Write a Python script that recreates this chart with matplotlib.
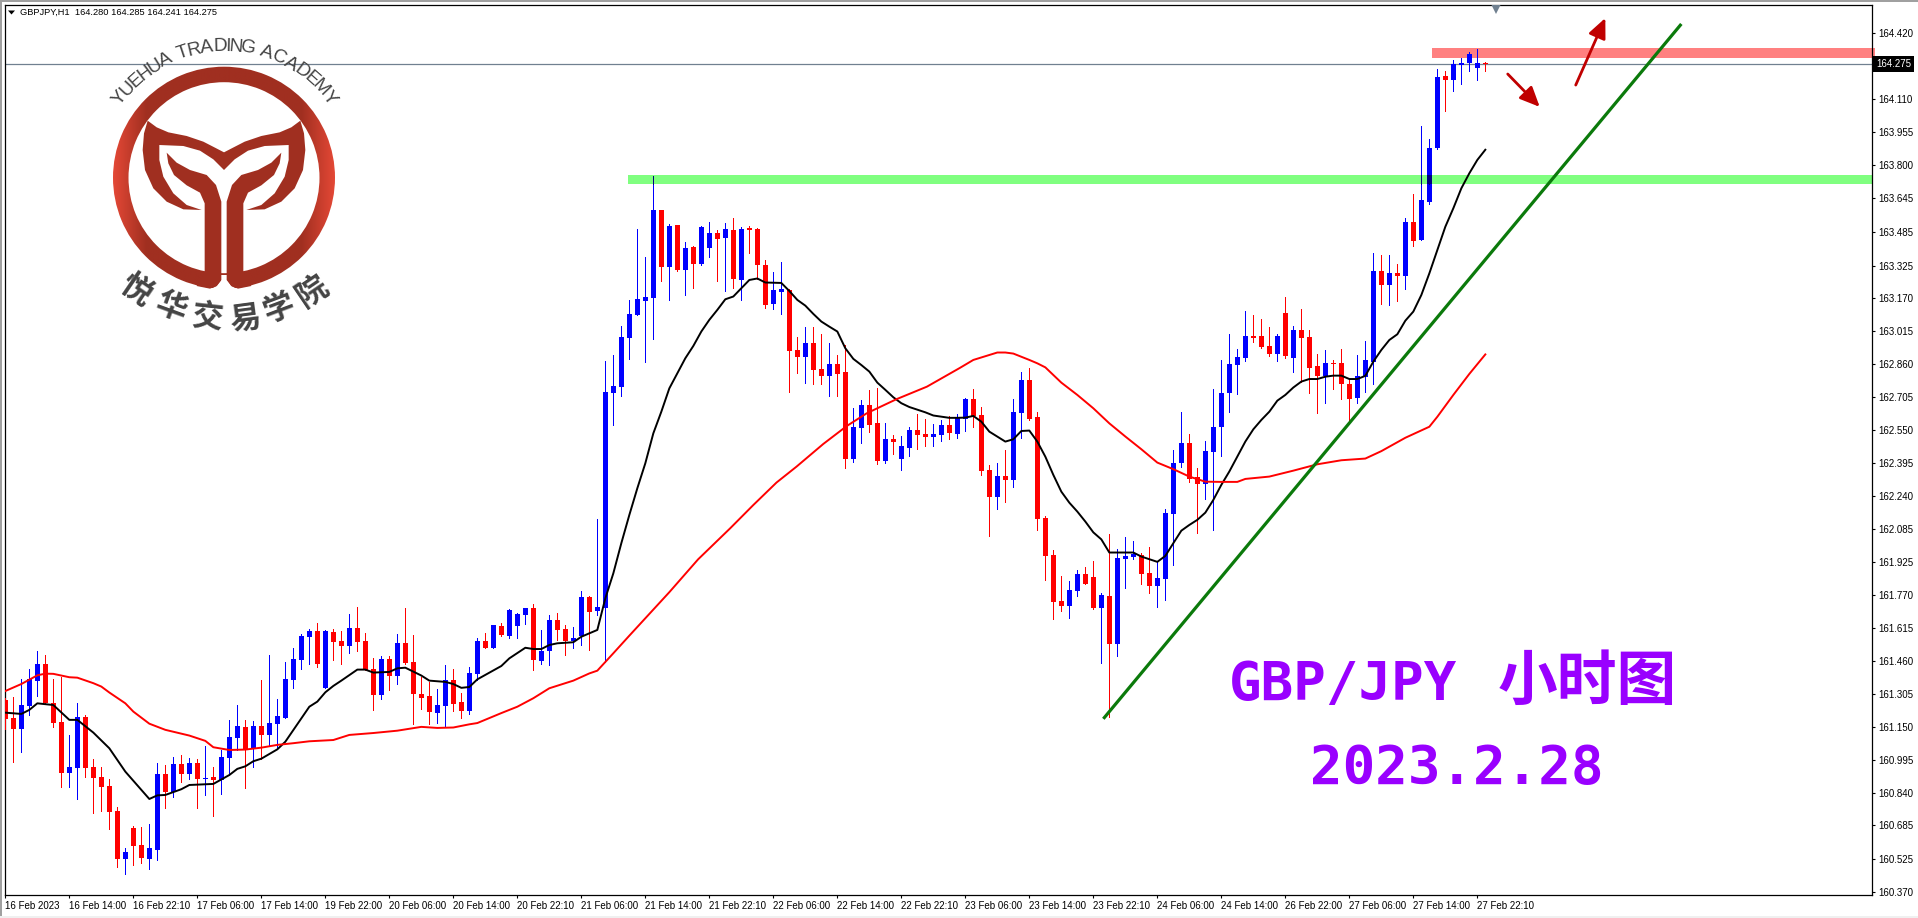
#coding=utf8
import numpy as np
import matplotlib
matplotlib.use("Agg")
import matplotlib.pyplot as plt
from matplotlib.patches import Polygon, Rectangle, Wedge
from matplotlib.textpath import TextPath
from matplotlib.font_manager import FontProperties

SMALL = 'Liberation Sans'
SMALL_SIZE = 7.0

# GBPJPY H1 candles
opens = [
    161.277, 161.191, 161.140, 161.249, 161.368, 161.447, 161.261, 161.173, 160.933, 160.956,
    161.197, 160.961, 160.914, 160.871, 160.754, 160.527, 160.673, 160.593, 160.527, 160.570,
    160.928, 160.842, 160.975, 160.928, 160.980, 160.904, 160.914, 160.900, 161.003, 161.098,
    161.150, 161.051, 161.154, 161.112, 161.164, 161.192, 161.371, 161.466, 161.574, 161.602,
    161.334, 161.598, 161.555, 161.532, 161.616, 161.555, 161.423, 161.301, 161.470, 161.390,
    161.546, 161.456, 161.305, 161.296, 161.216, 161.249, 161.371, 161.267, 161.225, 161.399,
    161.555, 161.522, 161.626, 161.578, 161.626, 161.677, 161.710, 161.461, 161.508, 161.654,
    161.611, 161.555, 161.578, 161.762, 161.696, 161.710, 162.724, 162.753, 162.984, 163.092,
    163.158, 163.172, 163.587, 163.319, 163.517, 163.304, 163.413, 163.333, 163.408, 163.479,
    163.455, 163.493, 163.257, 163.502, 163.498, 163.328, 163.144, 163.201, 163.210, 162.927,
    162.894, 162.960, 162.838, 162.805, 162.861, 162.823, 162.413, 162.559, 162.668, 162.583,
    162.404, 162.508, 162.413, 162.465, 162.550, 162.531, 162.517, 162.526, 162.574, 162.531,
    162.602, 162.696, 162.621, 162.361, 162.234, 162.333, 162.314, 162.630, 162.786, 162.611,
    162.135, 161.961, 161.744, 161.720, 161.791, 161.871, 161.857, 161.711, 161.767, 161.541,
    161.942, 161.951, 161.961, 161.876, 161.814, 161.847, 162.154, 162.394, 162.489, 162.328,
    162.295, 162.446, 162.564, 162.724, 162.856, 162.889, 162.993, 162.993, 162.946, 162.908,
    163.101, 162.889, 163.021, 162.988, 162.851, 162.804, 162.866, 162.866, 162.767, 162.701,
    162.800, 162.870, 163.299, 163.233, 163.290, 163.276, 163.530, 163.445, 163.625, 163.879,
    164.219, 164.200, 164.272, 164.280, 164.256, 164.280]
highs = [
    161.285, 161.293, 161.376, 161.423, 161.508, 161.489, 161.376, 161.387, 161.112, 161.261,
    161.206, 160.999, 160.961, 160.904, 160.771, 160.579, 160.683, 160.678, 160.692, 160.980,
    160.970, 161.008, 161.018, 161.003, 160.999, 161.060, 160.961, 161.041, 161.183, 161.253,
    161.183, 161.178, 161.371, 161.489, 161.282, 161.456, 161.522, 161.588, 161.612, 161.640,
    161.607, 161.612, 161.602, 161.682, 161.715, 161.593, 161.475, 161.484, 161.484, 161.588,
    161.711, 161.583, 161.385, 161.362, 161.329, 161.442, 161.423, 161.310, 161.433, 161.569,
    161.593, 161.630, 161.640, 161.706, 161.687, 161.710, 161.729, 161.607, 161.677, 161.687,
    161.630, 161.621, 161.791, 161.767, 162.130, 162.875, 162.903, 163.040, 163.163, 163.498,
    163.366, 163.748, 163.587, 163.521, 163.517, 163.436, 163.418, 163.512, 163.531, 163.493,
    163.526, 163.550, 163.507, 163.512, 163.502, 163.352, 163.295, 163.342, 163.215, 162.988,
    163.036, 163.036, 163.003, 162.960, 162.904, 162.951, 162.654, 162.691, 162.739, 162.748,
    162.583, 162.526, 162.522, 162.564, 162.625, 162.602, 162.578, 162.597, 162.616, 162.625,
    162.701, 162.743, 162.658, 162.385, 162.394, 162.456, 162.696, 162.823, 162.842, 162.635,
    162.144, 161.984, 161.862, 161.838, 161.890, 161.904, 161.932, 161.781, 162.060, 161.989,
    162.045, 162.027, 161.970, 161.998, 161.928, 162.177, 162.456, 162.635, 162.531, 162.371,
    162.498, 162.743, 162.880, 163.002, 162.932, 163.111, 163.092, 163.073, 163.035, 163.002,
    163.177, 163.040, 163.120, 163.021, 162.908, 162.927, 162.880, 162.932, 162.785, 162.903,
    162.969, 163.384, 163.375, 163.375, 163.332, 163.549, 163.662, 163.983, 163.922, 164.252,
    164.242, 164.294, 164.304, 164.332, 164.346, 164.285]
lows = [
    161.140, 160.985, 161.032, 161.206, 161.296, 161.261, 161.151, 160.867, 160.867, 160.810,
    160.914, 160.744, 160.754, 160.669, 160.490, 160.457, 160.499, 160.508, 160.480, 160.523,
    160.768, 160.820, 160.890, 160.904, 160.768, 160.829, 160.730, 160.834, 160.923, 161.041,
    160.862, 160.961, 160.999, 161.065, 161.051, 161.192, 161.334, 161.423, 161.447, 161.433,
    161.334, 161.466, 161.447, 161.499, 161.508, 161.418, 161.230, 161.282, 161.324, 161.352,
    161.447, 161.164, 161.234, 161.164, 161.168, 161.154, 161.225, 161.192, 161.211, 161.371,
    161.522, 161.522, 161.578, 161.569, 161.569, 161.635, 161.418, 161.446, 161.442, 161.560,
    161.489, 161.522, 161.536, 161.512, 161.677, 161.456, 162.573, 162.710, 162.885, 163.092,
    162.871, 162.979, 163.253, 163.163, 163.300, 163.187, 163.220, 163.328, 163.366, 163.253,
    163.205, 163.220, 163.163, 163.385, 163.262, 163.125, 163.120, 163.097, 162.729, 162.819,
    162.772, 162.767, 162.767, 162.710, 162.710, 162.371, 162.399, 162.489, 162.541, 162.390,
    162.394, 162.437, 162.361, 162.427, 162.460, 162.475, 162.475, 162.498, 162.508, 162.512,
    162.545, 162.564, 162.338, 162.050, 162.177, 162.210, 162.281, 162.512, 162.597, 162.078,
    161.843, 161.659, 161.697, 161.664, 161.767, 161.824, 161.706, 161.451, 161.197, 161.484,
    161.805, 161.942, 161.824, 161.781, 161.715, 161.748, 161.913, 162.376, 162.305, 162.064,
    162.225, 162.078, 162.427, 162.634, 162.719, 162.875, 162.965, 162.936, 162.899, 162.875,
    162.889, 162.823, 162.776, 162.724, 162.630, 162.677, 162.743, 162.696, 162.587, 162.677,
    162.729, 162.767, 163.144, 163.139, 163.158, 163.214, 163.417, 163.445, 163.615, 163.876,
    164.054, 164.148, 164.181, 164.242, 164.200, 164.241]
closes = [
    161.187, 161.140, 161.253, 161.376, 161.447, 161.261, 161.168, 160.933, 160.961, 161.197,
    160.956, 160.909, 160.867, 160.749, 160.527, 160.560, 160.589, 160.532, 160.579, 160.928,
    160.842, 160.975, 160.928, 160.980, 160.904, 160.908, 160.900, 161.008, 161.102, 161.154,
    161.041, 161.154, 161.112, 161.168, 161.201, 161.376, 161.470, 161.579, 161.602, 161.447,
    161.602, 161.550, 161.532, 161.616, 161.550, 161.418, 161.301, 161.470, 161.390, 161.546,
    161.451, 161.305, 161.286, 161.220, 161.253, 161.371, 161.258, 161.225, 161.404, 161.555,
    161.522, 161.630, 161.583, 161.701, 161.682, 161.710, 161.465, 161.508, 161.654, 161.607,
    161.555, 161.569, 161.762, 161.692, 161.715, 162.729, 162.757, 162.988, 163.097, 163.168,
    163.177, 163.587, 163.319, 163.512, 163.304, 163.408, 163.333, 163.507, 163.479, 163.451,
    163.498, 163.262, 163.498, 163.493, 163.328, 163.139, 163.210, 163.215, 162.922, 162.894,
    162.960, 162.833, 162.805, 162.861, 162.814, 162.413, 162.564, 162.668, 162.574, 162.404,
    162.508, 162.493, 162.475, 162.550, 162.526, 162.517, 162.531, 162.574, 162.536, 162.607,
    162.696, 162.616, 162.357, 162.234, 162.333, 162.314, 162.635, 162.786, 162.602, 162.130,
    161.956, 161.739, 161.720, 161.796, 161.871, 161.824, 161.711, 161.772, 161.541, 161.946,
    161.956, 161.965, 161.871, 161.814, 161.852, 162.159, 162.394, 162.489, 162.319, 162.295,
    162.451, 162.564, 162.724, 162.861, 162.894, 162.993, 162.983, 162.941, 162.908, 162.993,
    162.899, 163.021, 162.983, 162.842, 162.804, 162.866, 162.861, 162.767, 162.696, 162.804,
    162.880, 163.299, 163.233, 163.290, 163.276, 163.530, 163.441, 163.634, 163.879, 164.214,
    164.200, 164.275, 164.280, 164.322, 164.280, 164.275]

# fast moving average (black)
ma_fast_x = [0, 2, 3, 4, 6, 8, 9, 11, 13, 15, 18, 19, 20, 22, 23, 26, 28, 29, 30, 31, 32, 34, 35, 36, 37, 38, 39,
             40, 41, 42, 44, 45, 46, 48, 49, 50, 52, 53, 55, 56, 57, 58, 59, 60, 62, 63, 65, 66, 67, 68, 69, 71,
             72, 74, 75, 76, 77, 78, 79, 80, 81, 82, 83, 84, 85, 86, 87, 88, 89, 90, 91, 92, 93, 94, 95, 97, 98,
             99, 100, 101, 102, 103, 104, 105, 106, 107, 108, 109, 110, 111, 112, 113, 115, 116, 118, 119, 120,
             121, 122, 123, 125, 126, 127, 128, 129, 130, 131, 132, 133, 134, 135, 136, 137, 138, 141, 142, 144,
             145, 146, 147, 148, 149, 150, 151, 152, 153, 154, 155, 156, 157, 158, 159, 160, 161, 162, 163, 164,
             165, 166, 167, 168, 169, 170, 171, 172, 173, 174, 175, 176, 177, 178, 179, 180, 181, 182, 183, 184, 185]
ma_fast = [161.217, 161.211, 161.230, 161.261, 161.253, 161.183, 161.183, 161.123, 161.049, 160.939, 160.810,
           160.827, 160.829, 160.856, 160.876, 160.881, 160.923, 160.952, 160.964, 160.988, 161.000, 161.044,
           161.080, 161.135, 161.190, 161.245, 161.269, 161.313, 161.343, 161.368, 161.420, 161.420, 161.406,
           161.409, 161.426, 161.429, 161.392, 161.368, 161.362, 161.352, 161.334, 161.338, 161.374, 161.395,
           161.437, 161.473, 161.523, 161.517, 161.517, 161.536, 161.544, 161.549, 161.575, 161.607, 161.756,
           161.874, 162.016, 162.149, 162.275, 162.393, 162.534, 162.636, 162.746, 162.817, 162.888, 162.946,
           163.014, 163.069, 163.116, 163.166, 163.179, 163.218, 163.257, 163.264, 163.245, 163.243, 163.205,
           163.163, 163.136, 163.097, 163.061, 163.037, 163.014, 162.935, 162.885, 162.856, 162.825, 162.773,
           162.739, 162.704, 162.676, 162.658, 162.633, 162.618, 162.607, 162.607, 162.608, 162.616, 162.589,
           162.542, 162.495, 162.506, 162.545, 162.547, 162.495, 162.424, 162.338, 162.259, 162.207, 162.165,
           162.118, 162.067, 162.034, 161.972, 161.972, 161.953, 161.928, 161.956, 162.016, 162.075, 162.102,
           162.126, 162.160, 162.220, 162.291, 162.354, 162.424, 162.495, 162.553, 162.597, 162.636, 162.688,
           162.715, 162.750, 162.778, 162.790, 162.790, 162.801, 162.806, 162.806, 162.790, 162.790, 162.805,
           162.872, 162.927, 162.974, 163.001, 163.065, 163.108, 163.186, 163.288, 163.398, 163.508, 163.595,
           163.689, 163.760, 163.823, 163.871]

# slow moving average (red)
ma_slow_x = [0, 2, 4, 5, 6, 8, 9, 11, 12, 13, 15, 16, 18, 20, 23, 25, 26, 28, 30, 32, 34, 36, 38, 41, 43, 46, 49,
             52, 54, 56, 58, 59, 62, 64, 66, 68, 71, 73, 74, 76, 78, 80, 83, 86.6, 90.6, 93.5, 96.4, 98.9, 102.25,
             105.2, 107.7, 111.4, 115.2, 119.3, 121, 124, 125, 126, 128, 129, 130, 132, 134, 136, 138, 140, 142,
             144, 146, 148, 150, 152, 154, 155, 158, 161, 164, 167, 170, 172, 175, 178, 179, 181, 183, 185]
ma_slow = [161.319, 161.352, 161.393, 161.401, 161.400, 161.384, 161.382, 161.356, 161.340, 161.312, 161.261,
           161.222, 161.165, 161.136, 161.109, 161.084, 161.054, 161.041, 161.043, 161.052, 161.065, 161.073,
           161.082, 161.088, 161.112, 161.121, 161.132, 161.150, 161.145, 161.147, 161.162, 161.168, 161.215,
           161.245, 161.285, 161.332, 161.368, 161.402, 161.415, 161.497, 161.580, 161.662, 161.785, 161.940,
           162.086, 162.196, 162.302, 162.377, 162.484, 162.569, 162.629, 162.695, 162.754, 162.842, 162.880,
           162.915, 162.915, 162.910, 162.880, 162.864, 162.845, 162.773, 162.715, 162.652, 162.581, 162.519,
           162.459, 162.396, 162.365, 162.330, 162.306, 162.305, 162.305, 162.319, 162.330, 162.358, 162.388,
           162.407, 162.415, 162.450, 162.513, 162.565, 162.612, 162.715, 162.814, 162.906]

y_ticks = [164.420, 164.265, 164.110, 163.955, 163.800, 163.645, 163.485, 163.325, 163.170, 163.015, 162.860,
           162.705, 162.550, 162.395, 162.240, 162.085, 161.925, 161.770, 161.615, 161.460, 161.305, 161.150,
           160.995, 160.840, 160.685, 160.525, 160.370]
x_tick_labels = ['16 Feb 2023', '16 Feb 14:00', '16 Feb 22:10', '17 Feb 06:00', '17 Feb 14:00', '19 Feb 22:00',
                 '20 Feb 06:00', '20 Feb 14:00', '20 Feb 22:10', '21 Feb 06:00', '21 Feb 14:00', '21 Feb 22:10',
                 '22 Feb 06:00', '22 Feb 14:00', '22 Feb 22:10', '23 Feb 06:00', '23 Feb 14:00', '23 Feb 22:10',
                 '24 Feb 06:00', '24 Feb 14:00', '26 Feb 22:00', '27 Feb 06:00', '27 Feb 14:00', '27 Feb 22:10']

last_price = 164.275
green_zone = (163.710, 163.752)
red_zone = (164.304, 164.351)
trend_line = ([137.25, 209.5], [161.188, 164.464])
arrow_up = ((196.3, 164.176), (200.0, 164.492))
arrow_down = ((187.8, 164.228), (191.8, 164.073))

WIDTH, HEIGHT = 1918, 918
AX_L, AX_R, AX_T, AX_B = 4.5, 1872.0, 4.5, 895.0
BAR_PX = 8.0
BODY = 5.6 / BAR_PX


def drawCandles(ax):
    o, h, l, c = map(np.array, (opens, highs, lows, closes))
    x = np.arange(len(o))
    colors = np.where(c >= o, '#0000ff', '#ff0000')
    ax.vlines(x, l, h, colors=colors, lw=0.72, zorder=3, antialiased=False)
    top = np.maximum(o, c)
    bot = np.minimum(o, c)
    ax.bar(x, np.maximum(top - bot, 0.006), bottom=bot, width=BODY, color=colors, lw=0,
           zorder=3, antialiased=False)
    # candles come out dark where they cross the green zone
    lo_z, hi_z = green_zone
    for i in x[(h > lo_z) & (l < hi_z) & (c >= o)]:
        ax.vlines(i, max(l[i], lo_z), min(h[i], hi_z), colors='#000080', lw=0.72, zorder=4, antialiased=False)
        if top[i] > lo_z and bot[i] < hi_z:
            ax.bar(i, min(top[i], hi_z) - max(bot[i], lo_z), bottom=max(bot[i], lo_z), width=BODY,
                   color='#000080', lw=0, zorder=4, antialiased=False)


def setupChart(fig):
    ax = fig.add_axes([AX_L / WIDTH, 1 - AX_B / HEIGHT, (AX_R - AX_L) / WIDTH, (AX_B - AX_T) / HEIGHT])
    ax.set_xlim((AX_L - 5.33) / BAR_PX, (AX_R - 5.33) / BAR_PX)
    ax.set_ylim(164.577 - AX_B / 212.1, 164.577 - AX_T / 212.1)
    for s in ax.spines.values():
        s.set_linewidth(0.9)
    ax.yaxis.tick_right()
    ax.set_yticks(y_ticks)
    ax.set_yticklabels(['%.3f' % t if t != 164.265 else '' for t in y_ticks], family=SMALL, fontsize=SMALL_SIZE)
    ax.set_xticks(np.arange(len(x_tick_labels)) * 8)
    ax.set_xticklabels(x_tick_labels, family=SMALL, fontsize=SMALL_SIZE, ha='left')
    ax.tick_params(axis='both', length=2.5, width=0.8, pad=2)
    return ax


def drawLevels(ax):
    ax.add_patch(Rectangle((77.8, green_zone[0]), 500, green_zone[1] - green_zone[0], fc='#80ff80', lw=0, zorder=1))
    ax.axhspan(red_zone[0], red_zone[1], xmin=(1432.3 - AX_L) / (AX_R - AX_L), xmax=(1874.5 - AX_L) / (AX_R - AX_L),
               fc='#ff8080', lw=0, zorder=1, clip_on=False)
    ax.axhline(last_price, color='#708090', lw=0.9, zorder=2)
    ax.plot(trend_line[0], trend_line[1], color='#0b7a0b', lw=2.3, zorder=6, solid_capstyle='butt')
    ax.plot(ma_fast_x, ma_fast, color='black', lw=1.4, zorder=5)
    ax.plot(ma_slow_x, ma_slow, color='#ff0000', lw=1.4, zorder=5)
    for start, end in (arrow_up, arrow_down):
        ax.annotate('', xy=end, xytext=start,
                    arrowprops=dict(arrowstyle='-|>,head_length=1.0,head_width=0.45', lw=2.0, color='#c00000',
                                    shrinkA=0, shrinkB=0, mutation_scale=12), zorder=7)
    ax.plot([186.3], [0.9945], marker='v', ms=6.5, color='#708090', mew=0, clip_on=True,
            transform=ax.get_xaxis_transform(), zorder=7)
    ax.text(1.0021, last_price, '%.3f' % last_price, transform=ax.get_yaxis_transform(), va='center', ha='left',
            family=SMALL, fontsize=SMALL_SIZE, color='white', zorder=8,
            bbox=dict(fc='black', ec='none', boxstyle='square,pad=0.3'))


def curvedText(ov):
    # YUEHUA TRADING ACADEMY round the top of the ring
    cx, cy = 224.0, 177.7
    word = 'YUEHUA TRADING ACADEMY'
    fp = FontProperties(family='Liberation Sans')
    size_pt = 13.8
    adv = []
    for ch in word:
        if ch == ' ':
            adv.append(5.5)
        else:
            adv.append(TextPath((0, 0), ch, size=size_pt * 100 / 72, prop=fp).get_extents().width + 1.5)
    pos = np.cumsum(adv) - np.array(adv) / 2
    pos = (pos - np.sum(adv) / 2) / np.sum(adv) * np.radians(55.5) * 2
    for ch, a in zip(word, pos):
        ov.text(cx + 127 * np.sin(a), cy - 127 * np.cos(a), ch, rotation=-np.degrees(a), rotation_mode='anchor',
                ha='center', va='baseline', family='Liberation Sans', fontsize=size_pt, color='#444444')
    # Chinese name under the ring
    han = [('悦', 136, 290), ('华', 171, 307), ('交', 207, 317), ('易', 245, 319), ('学', 279, 308), ('院', 313, 292)]
    for ch, x, y in han:
        a = np.arctan2(x - cx, y - cy)
        ov.text(x, y, ch, rotation=np.degrees(a) * 0.9, rotation_mode='anchor', ha='center', va='center',
                family='Noto Sans CJK SC', fontweight='bold', fontsize=22.5, color='#444444')


def drawLogo(ov):
    mid = 672.0
    dark = '#a02f20'
    grad = np.abs(np.linspace(0, 1, 256) - 0.5) * 2
    grad = np.clip((grad - 0.7) / 0.3, 0, 1)[None, :, None]
    c1 = np.array([0xa0, 0x2f, 0x20]) / 255.0
    c2 = np.array([0xe4, 0x48, 0x36]) / 255.0
    img = c1 + (c2 - c1) * grad
    ring = Wedge((224.0, 177.7), 111, 0, 360, width=15.5, fc='none', ec='none', transform=ov.transData)
    ov.add_patch(ring)
    im = ov.imshow(img, extent=(113, 335, 289, 66), aspect='auto', zorder=3)
    im.set_clip_path(ring)
    ov.set_xlim(0, WIDTH)
    ov.set_ylim(HEIGHT, 0)

    # outer tail, left half, in zoom pixels (3x)
    tail = [(443, 362), (470, 382), (505, 397), (560, 408), (610, 425), (645, 443), (672, 457), (672, 510), (640, 478),
            (600, 452), (550, 438), (478, 435), (478, 480), (490, 530), (520, 580), (560, 615), (605, 630), (550, 628),
            (500, 605), (460, 565), (435, 510), (428, 450), (432, 400)]
    # inner leaf running into the stem
    leaf = [(500, 458), (530, 488), (570, 510), (620, 525), (648, 555), (664, 605), (664, 840), (650, 858), (630, 866),
            (590, 858), (614, 815), (614, 610), (600, 578), (560, 556), (522, 525), (505, 490)]
    for pts in (tail, leaf):
        left = np.array(pts, dtype=float) / 3
        right = left.copy()
        right[:, 0] = (2 * mid) / 3 - left[:, 0]
        ov.add_patch(Polygon(left, fc=dark, ec='none', zorder=4))
        ov.add_patch(Polygon(right, fc=dark, ec='none', zorder=4))
    # white slit at the foot of the ring and the open space beside the stem
    ov.add_patch(Rectangle((664 / 3, 825 / 3), 18 / 3, 50 / 3, fc='white', ec='none', zorder=3.5))
    ov.add_patch(Polygon(np.array([(664, 840), (650, 858), (630, 868), (714, 868), (694, 858), (682, 840)]) / 3,
                         fc='white', ec='none', zorder=3.5))


def createPlot():
    fig = plt.figure(figsize=(WIDTH / 100, HEIGHT / 100), dpi=100, facecolor='white')
    ax = setupChart(fig)
    drawLevels(ax)
    drawCandles(ax)

    # overlay in picture pixels for the frame, logo and captions
    ov = fig.add_axes([0, 0, 1, 1], facecolor='none', zorder=10)
    ov.set_xlim(0, WIDTH)
    ov.set_ylim(HEIGHT, 0)
    ov.axis('off')
    ov.add_patch(Rectangle((0, 0), WIDTH, 1.6, fc='#a0a0a0', ec='none'))
    ov.add_patch(Rectangle((0, 0), 1.6, HEIGHT, fc='#a0a0a0', ec='none'))
    ov.add_patch(Rectangle((0, 916), WIDTH, 2, fc='#f0f0f0', ec='none'))
    drawLogo(ov)
    curvedText(ov)

    ov.add_patch(Polygon([(8, 10.5), (15, 10.5), (11.5, 14.5)], fc='black', ec='none'))
    ov.text(20, 12.5, 'GBPJPY,H1  164.280 164.285 164.241 164.275', family=SMALL, fontsize=6.7, va='center', ha='left')

    purple = '#9900ff'
    ov.text(1229, 700, 'GBP/JPY', family='DejaVu Sans Mono', fontweight='bold', fontsize=39, color=purple,
            va='baseline', ha='left')
    ov.text(1498, 700, '小时图', family='Noto Sans CJK SC', fontweight='bold', fontsize=43, color=purple,
            va='baseline', ha='left')
    ov.text(1310, 784, '2023.2.28', family='DejaVu Sans Mono', fontweight='bold', fontsize=39, color=purple,
            va='baseline', ha='left')
    fig.savefig('out.png', dpi=100, facecolor='white')


if __name__ == "__main__":
    createPlot()
